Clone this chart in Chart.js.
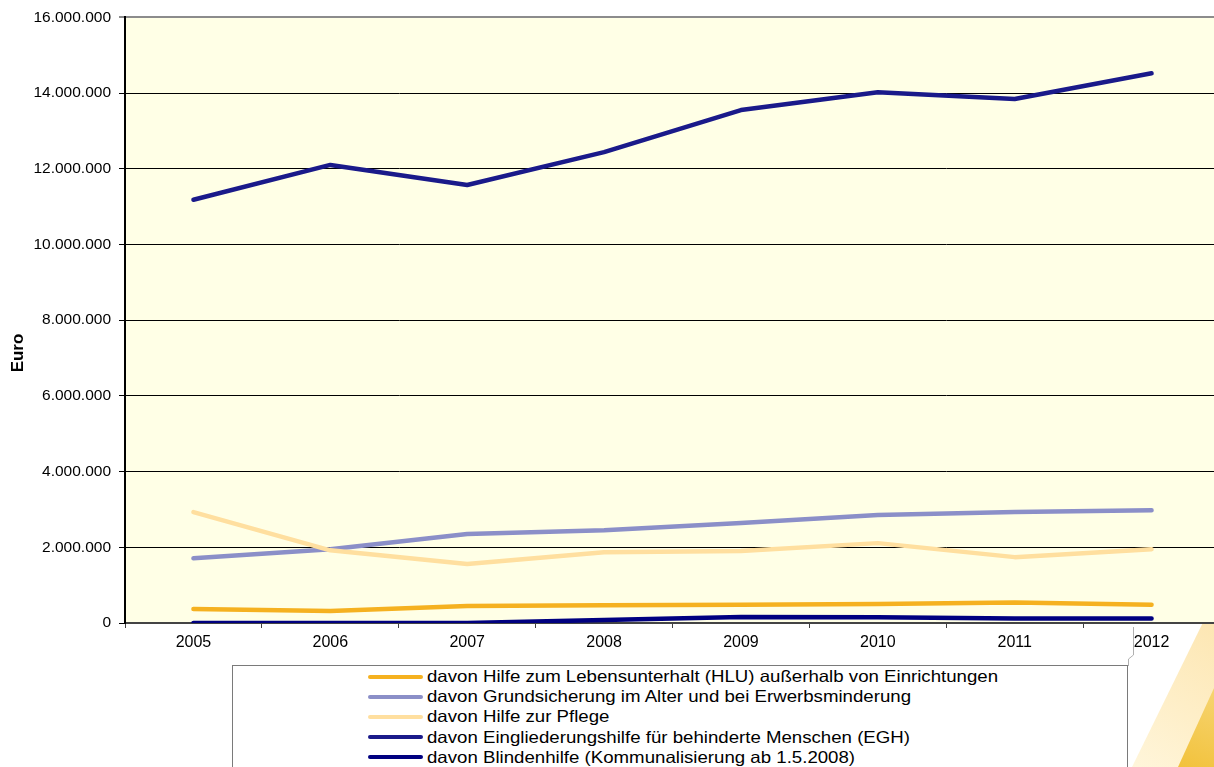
<!DOCTYPE html>
<html>
<head>
<meta charset="UTF-8">
<title>Sozialhilfe Ausgaben</title>
<script src="https://cdn.jsdelivr.net/npm/chart.js@4/dist/chart.umd.min.js"></script>
<style>
  body{margin:0;overflow:hidden;background:#fff;font-family:"Liberation Sans",Arial,sans-serif;}
  #wrap{position:relative;width:1214px;height:767px;overflow:hidden;}
  #chartBox{position:absolute;left:0;top:0;width:1220px;height:767px;}
  #legend{position:absolute;left:232px;top:665px;width:896px;height:110px;
          border:1px solid #7a7a7a;background:#fff;box-sizing:border-box;}
  .item{position:absolute;left:135px;height:20px;}
  .item span{position:absolute;left:0;top:8.5px;width:55px;height:4px;border-radius:2px;}
  .item b{position:absolute;left:59px;top:0;font-weight:normal;font-size:16.5px;line-height:20px;color:#000;
          white-space:nowrap;transform:scaleX(1.13);transform-origin:0 0;}
</style>
</head>
<body>
<div id="wrap">
  <div id="chartBox"><canvas id="chart" width="1220" height="767"></canvas></div>
  <div id="legend"></div>
</div>
<script>
const years=["2005","2006","2007","2008","2009","2010","2011","2012"];

const hlu=[370000,320000,450000,470000,480000,500000,540000,480000];
const grundsicherung=[1710000,1950000,2350000,2450000,2640000,2850000,2930000,2980000];
const pflege=[2930000,1920000,1560000,1870000,1900000,2110000,1740000,1950000];
const egh=[11180000,12100000,11570000,12440000,13550000,14020000,13840000,14520000];
const blindenhilfe=[0,0,0,80000,160000,150000,120000,120000];

const names=[
  "davon Hilfe zum Lebensunterhalt (HLU) außerhalb von Einrichtungen",
  "davon Grundsicherung im Alter und bei Erwerbsminderung",
  "davon Hilfe zur Pflege",
  "davon Eingliederungshilfe für behinderte Menschen (EGH)",
  "davon Blindenhilfe (Kommunalisierung ab 1.5.2008)"
];
const colors=["#f5b120","#8b8fc8","#ffdf9f","#1a1a8a","#000080"];
const series=[hlu,grundsicherung,pflege,egh,blindenhilfe];
const yTitle="Euro";

// legend (html, built from the same arrays)
names.forEach((n,i)=>{
  const d=document.createElement("div");
  d.className="item";
  d.style.top=(i*20.2)+"px";
  d.innerHTML='<span style="background:'+colors[i]+'"></span><b>'+n+'</b>';
  legend.appendChild(d);
});

function fmt(v){
  return v.toString().replace(/\B(?=(\d{3})+(?!\d))/g,".");
}

const bgPlugin={
  id:"bg",
  beforeDraw(chart){
    const {ctx,chartArea:a}=chart;
    ctx.save();
    // decorative swoosh bottom right
    let g=ctx.createLinearGradient(1120,767,1214,630);
    g.addColorStop(0,"#fff6dc");
    g.addColorStop(1,"#fde7b4");
    ctx.fillStyle=g;
    ctx.beginPath();
    ctx.moveTo(1132,767);ctx.lineTo(1214,600);ctx.lineTo(1214,767);ctx.closePath();
    ctx.fill();
    g=ctx.createLinearGradient(1180,767,1214,680);
    g.addColorStop(0,"#f2c23c");
    g.addColorStop(1,"#f7d676");
    ctx.fillStyle=g;
    ctx.beginPath();
    ctx.moveTo(1178,767);ctx.lineTo(1214,688);ctx.lineTo(1214,767);ctx.closePath();
    ctx.fill();
    // small frame corner next to legend
    ctx.strokeStyle="#b0b0b0";ctx.lineWidth=1;
    ctx.beginPath();
    ctx.moveTo(1133.5,627);ctx.lineTo(1133.5,655);ctx.lineTo(1128.5,659);ctx.lineTo(1128.5,666);
    ctx.stroke();
    ctx.fillStyle="#ffffe6";
    ctx.fillRect(a.left,a.top,a.right-a.left,a.bottom-a.top);
    ctx.restore();
  },
  afterDraw(chart){
    const {ctx}=chart;
    ctx.save();
    ctx.translate(18,353);
    ctx.rotate(-Math.PI/2);
    ctx.font="bold 17px 'Liberation Sans'";
    ctx.fillStyle="#000";
    ctx.textAlign="center";
    ctx.textBaseline="middle";
    ctx.fillText(yTitle,0,0);
    ctx.restore();
  }
};

new Chart(document.getElementById("chart"),{
  type:"line",
  data:{
    labels:years,
    datasets:series.map((s,i)=>({
      label:names[i],
      data:s,
      borderColor:colors[i],
      backgroundColor:colors[i],
      borderWidth:4.5,
      pointRadius:0,
      tension:0,
      borderCapStyle:"round",
      borderJoinStyle:"round",
      order:i==3?0:5-i
    }))
  },
  options:{
    responsive:false,
    animation:false,
    layout:{padding:{top:16,right:0,left:0,bottom:0}},
    plugins:{legend:{display:false},tooltip:{enabled:false}},
    scales:{
      x:{
        offset:true,
        afterFit(s){s.height=144;},
        grid:{offset:true,drawOnChartArea:false,tickLength:5,color:"#404040",lineWidth:1},
        border:{color:"#444",width:2},
        ticks:{color:"#000",font:{family:"Liberation Sans",size:16},padding:5,maxRotation:0}
      },
      y:{
        min:0,max:16000000,
        afterFit(s){s.width=125;},
        ticks:{stepSize:2000000,color:"#000",font:{family:"Liberation Sans",size:15.5},padding:8,
               callback:v=>fmt(v)},
        grid:{color:c=>c.tick&&c.tick.value==16000000?"#8c8c8c":"#000",
              lineWidth:c=>c.tick&&c.tick.value==16000000?2:1,tickLength:6},
        border:{color:"#000",width:2}
      }
    }
  },
  plugins:[bgPlugin]
});
</script>
</body>
</html>
